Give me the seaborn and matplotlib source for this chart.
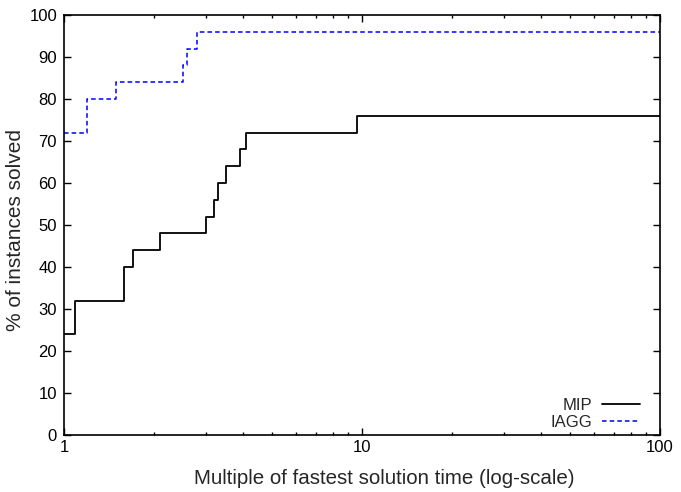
import numpy as np
import pandas as pd
import matplotlib
matplotlib.use("Agg")
import matplotlib.pyplot as plt
import seaborn as sns
from matplotlib.ticker import LogLocator, FixedLocator, FixedFormatter, NullFormatter

# performance profile data (ratio to fastest, % solved)
mip_x = [1.0, 1.09, 1.59, 1.70, 2.10, 3.00, 3.19, 3.29, 3.50, 3.90, 4.08, 9.60, 100.0]
mip_y = [24, 32, 40, 44, 48, 52, 56, 60, 64, 68, 72, 76, 76]
iagg_x = [1.0, 1.19, 1.50, 2.50, 2.59, 2.79, 100.0]
iagg_y = [72, 80, 84, 88, 92, 96, 96]

sns.set_style("ticks")
plt.rcParams['font.family'] = ['Liberation Sans', 'DejaVu Sans']

df = pd.concat([
    pd.DataFrame({"ratio": mip_x, "solved": mip_y, "solver": "MIP"}),
    pd.DataFrame({"ratio": iagg_x, "solved": iagg_y, "solver": "IAGG"}),
])

fig = plt.figure(figsize=(6.81, 4.92), dpi=100)
ax = fig.add_axes([0.094, 0.116, 0.875, 0.8535])

sns.lineplot(data=df[df.solver == "MIP"], x="ratio", y="solved", ax=ax,
             drawstyle="steps-post", estimator=None, color="black",
             linewidth=1.3, label="MIP")
sns.lineplot(data=df[df.solver == "IAGG"], x="ratio", y="solved", ax=ax,
             drawstyle="steps-post", estimator=None, color="blue",
             linewidth=1.1, linestyle=(0, (3, 2)), label="IAGG")

ax.set_xscale("log")
ax.set_xlim(1, 100)
ax.set_ylim(0, 100)
ax.xaxis.set_major_locator(FixedLocator([1, 10, 100]))
ax.xaxis.set_major_formatter(FixedFormatter(["1", "10", "100"]))
ax.xaxis.set_minor_locator(LogLocator(base=10, subs=np.arange(2, 10)))
ax.xaxis.set_minor_formatter(NullFormatter())
ax.set_yticks(range(0, 101, 10))

ax.tick_params(which="both", direction="in", top=True, right=True,
               labelsize=12, colors="black", width=1)
ax.tick_params(which="major", length=5)
ax.tick_params(which="minor", length=2.5)
ax.tick_params(axis="x", pad=4)
ax.tick_params(axis="y", pad=5)
for s in ax.spines.values():
    s.set_linewidth(1.2)
    s.set_color("black")

ax.set_xlabel("Multiple of fastest solution time (log-scale)", fontsize=14.8)
ax.set_ylabel("% of instances solved", fontsize=15)
ax.xaxis.set_label_coords(0.537, -0.081)
ax.yaxis.set_label_coords(-0.066, 0.488)

leg = ax.legend(loc="lower right", bbox_to_anchor=(0.972, 0.004), frameon=False,
                markerfirst=False, fontsize=12, handlelength=2.25,
                labelspacing=0.1, borderaxespad=0, borderpad=0.2,
                handletextpad=0.6)
for t in leg.get_texts():
    t.set_ha("right")

fig.savefig("out.png", dpi=100)
